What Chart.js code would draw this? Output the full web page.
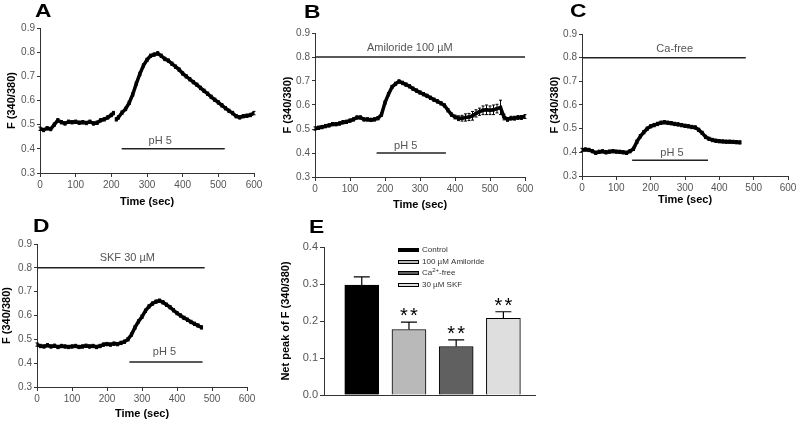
<!DOCTYPE html>
<html>
<head>
<meta charset="utf-8">
<title>pH 5 Ca2+ responses</title>
<script src="https://cdn.jsdelivr.net/npm/chart.js@4.4.1/dist/chart.umd.min.js"></script>
<style>
  body { margin: 0; background: #fff; }
  #wrap { position: relative; width: 800px; height: 421px; overflow: hidden; }
  canvas { position: absolute; }
  .tag { position: absolute; font: bold 19px "Liberation Sans", Arial, sans-serif; line-height: 19px; color: #000; transform: scaleX(1.2); transform-origin: left top; }
</style>
</head>
<body>
<div id="wrap">
  <canvas id="chartA" width="264" height="210" style="left:0px;top:0px"></canvas>
  <canvas id="chartB" width="265" height="213" style="left:270px;top:0px"></canvas>
  <canvas id="chartC" width="260" height="208" style="left:540px;top:0px"></canvas>
  <canvas id="chartD" width="260" height="211" style="left:0px;top:210px"></canvas>
  <canvas id="chartE" width="275" height="211" style="left:270px;top:210px"></canvas>
  <div class="tag" style="left:35px;top:1px">A</div>
  <div class="tag" style="left:304px;top:2px">B</div>
  <div class="tag" style="left:570px;top:1px">C</div>
  <div class="tag" style="left:33px;top:216px">D</div>
  <div class="tag" style="left:309px;top:217px">E</div>
</div>
<script>
// ---------- data ----------
// A: control (short recording gap around 210 s)
const timeA = [0,10,20,30,40,50,60,70,80,90,100,110,120,130,140,150,160,170,180,190,200,206,210,214,220,230,240,250,260,270,280,290,300,310,320,330,340,350,360,370,380,390,400,410,420,430,440,450,460,470,480,490,500,510,520,530,540,550,560,570,580,590,600];
const ratioA = [0.483,0.478,0.485,0.482,0.500,0.518,0.510,0.505,0.512,0.510,0.512,0.508,0.510,0.507,0.512,0.505,0.508,0.518,0.522,0.530,0.540,0.548,null,0.522,0.530,0.550,0.565,0.590,0.625,0.670,0.710,0.745,0.768,0.785,0.790,0.795,0.785,0.772,0.765,0.752,0.740,0.728,0.712,0.700,0.688,0.676,0.665,0.652,0.640,0.628,0.615,0.603,0.592,0.580,0.568,0.557,0.548,0.535,0.530,0.535,0.537,0.540,0.548];
const semA = 0.007;
const pHWindowA = [229, 518];

// B: amiloride 100 uM
const timeB = [0,10,20,30,40,50,60,70,80,90,100,110,120,130,140,150,160,170,180,190,200,210,220,230,240,250,260,270,280,290,300,310,320,330,340,350,360,370,380,390,400,410,420,430,440,450,460,470,480,490,500,510,520,530,540,550,560,570,580,590,600];
const ratioB = [0.502,0.505,0.508,0.512,0.515,0.520,0.520,0.523,0.528,0.530,0.535,0.540,0.548,0.548,0.540,0.540,0.538,0.540,0.545,0.560,0.610,0.645,0.675,0.688,0.698,0.692,0.685,0.678,0.668,0.660,0.652,0.645,0.638,0.630,0.622,0.615,0.607,0.598,0.578,0.560,0.550,0.545,0.545,0.548,0.550,0.555,0.565,0.572,0.578,0.580,0.578,0.580,0.585,0.590,0.550,0.540,0.545,0.545,0.548,0.548,0.552];
const semB = [0.007,0.007,0.007,0.007,0.007,0.007,0.007,0.007,0.007,0.007,0.007,0.007,0.007,0.007,0.007,0.007,0.007,0.007,0.007,0.007,0.007,0.007,0.007,0.007,0.007,0.007,0.007,0.007,0.007,0.007,0.007,0.007,0.007,0.007,0.007,0.007,0.007,0.007,0.007,0.007,0.008,0.010,0.012,0.015,0.015,0.018,0.015,0.015,0.018,0.020,0.018,0.020,0.018,0.030,0.012,0.008,0.008,0.008,0.008,0.008,0.008];
const pHWindowB = [176, 374];
const amilorideWindowB = [0, 600];

// C: Ca-free
const timeC = [0,10,20,30,40,50,60,70,80,90,100,110,120,130,140,150,160,170,180,190,200,210,220,230,240,250,260,270,280,290,300,310,320,330,340,350,360,370,380,390,400,410,420,430,440,450,460];
const ratioC = [0.410,0.412,0.410,0.405,0.398,0.402,0.404,0.400,0.403,0.405,0.403,0.402,0.400,0.398,0.405,0.415,0.445,0.468,0.485,0.500,0.510,0.515,0.520,0.525,0.527,0.525,0.523,0.520,0.518,0.515,0.512,0.510,0.507,0.505,0.495,0.482,0.465,0.457,0.452,0.449,0.447,0.446,0.445,0.445,0.444,0.443,0.442];
const semC = 0.007;
const pHWindowC = [146, 367];
const caFreeWindowC = [0, 477];

// D: SKF 30 uM
const timeD = [0,10,20,30,40,50,60,70,80,90,100,110,120,130,140,150,160,170,180,190,200,210,220,230,240,250,260,270,280,290,300,310,320,330,340,350,360,370,380,390,400,410,420,430,440,450,460,470];
const ratioD = [0.478,0.472,0.470,0.475,0.470,0.473,0.468,0.472,0.470,0.468,0.470,0.472,0.468,0.470,0.473,0.470,0.472,0.468,0.472,0.478,0.480,0.478,0.482,0.480,0.485,0.490,0.500,0.520,0.550,0.575,0.595,0.620,0.638,0.650,0.658,0.662,0.655,0.645,0.635,0.622,0.610,0.600,0.590,0.582,0.573,0.565,0.558,0.550];
const semD = 0.007;
const pHWindowD = [264, 473];
const skfWindowD = [0, 479];

// E: net peak of F
const groups = ['Control', '100 µM Amiloride', 'Ca²⁺-free', '30 µM SKF'];
const netPeak = [0.297, 0.177, 0.131, 0.207];
const netPeakSem = [0.022, 0.020, 0.018, 0.018];
const significance = ['', '**', '**', '**'];

// ---------- shared look ----------
const FONT = '"Liberation Sans", Arial, sans-serif';
Chart.defaults.font.family = FONT;
Chart.defaults.color = '#555';
const AXIS = '#333';

const errorBars = {
  id: 'errorBars',
  afterDatasetsDraw(chart, args, opts) {
    const { ctx } = chart;
    const y = chart.scales.y;
    chart.data.datasets.forEach((ds, di) => {
      if (ds.sem == null) return;
      const meta = chart.getDatasetMeta(di);
      ctx.save();
      ctx.strokeStyle = '#000';
      ctx.lineWidth = opts.width || 1;
      meta.data.forEach((el, i) => {
        const d = ds.data[i];
        if (d == null || d.y == null) return;
        const s = Array.isArray(ds.sem) ? ds.sem[i] : ds.sem;
        const top = y.getPixelForValue(d.y + s);
        const bot = ds.upOnly ? y.getPixelForValue(d.y) : y.getPixelForValue(d.y - s);
        const w = opts.cap || 1.5;
        ctx.beginPath();
        ctx.moveTo(el.x, top); ctx.lineTo(el.x, bot);
        ctx.moveTo(el.x - w, top); ctx.lineTo(el.x + w, top);
        if (!ds.upOnly) { ctx.moveTo(el.x - w, bot); ctx.lineTo(el.x + w, bot); }
        ctx.stroke();
      });
      ctx.restore();
    });
  }
};

const notes = {
  id: 'notes',
  afterDatasetsDraw(chart, args, opts) {
    if (!opts.items) return;
    const { ctx, scales: { x, y } } = chart;
    ctx.save();
    ctx.font = '11px ' + FONT;
    ctx.fillStyle = '#555';
    ctx.textAlign = 'center';
    ctx.textBaseline = 'middle';
    opts.items.forEach(n => ctx.fillText(n.text, x.getPixelForValue(n.x), y.getPixelForValue(n.y)));
    ctx.restore();
  }
};

function fitY(w) {
  return s => { s.width = w; s.paddingTop = 0; s.paddingBottom = 0; };
}
function fitX(h) {
  return s => { s.height = h; s.paddingLeft = 0; s.paddingRight = 0; };
}

function tracePanel(id, p) {
  const datasets = [{
    data: p.time.map((t, i) => ({ x: t, y: p.values[i] })),
    sem: p.sem,
    borderColor: '#000',
    borderWidth: 3.5,
    pointStyle: 'rect',
    pointRadius: 2.2,
    pointBackgroundColor: '#000',
    pointBorderWidth: 0,
    spanGaps: false
  }];
  p.windows.forEach(w => datasets.push({
    data: [{ x: w.range[0], y: w.level }, { x: w.range[1], y: w.level }],
    borderColor: '#222',
    borderWidth: 1.5,
    pointRadius: 0
  }));

  return new Chart(document.getElementById(id), {
    type: 'line',
    data: { datasets },
    plugins: [errorBars, notes],
    options: {
      responsive: false,
      animation: false,
      devicePixelRatio: 1,
      layout: { padding: { top: p.pad.top, right: p.pad.right, left: 0, bottom: 0 } },
      plugins: {
        legend: { display: false },
        tooltip: { enabled: false },
        errorBars: { cap: 1.5 },
        notes: { items: p.notes }
      },
      scales: {
        x: {
          type: 'linear', min: 0, max: 600,
          ticks: { stepSize: 100, font: { size: 10 }, padding: 2, maxRotation: 0 },
          grid: { drawOnChartArea: false, drawTicks: true, tickLength: 4, color: AXIS },
          border: { display: true, color: AXIS },
          title: { display: true, text: 'Time (sec)', color: '#000', font: { size: 11, weight: 'bold' }, padding: { top: 0, bottom: p.xTitlePad } },
          afterFit: fitX(p.xh)
        },
        y: {
          min: 0.3, max: 0.9,
          ticks: { stepSize: 0.1, font: { size: 10 }, padding: 2, callback: v => v.toFixed(1) },
          grid: { drawOnChartArea: false, drawTicks: true, tickLength: 3, color: AXIS },
          border: { display: true, color: AXIS },
          title: { display: true, text: 'F (340/380)', color: '#000', font: { size: 11, weight: 'bold' }, padding: { top: p.yTitlePad, bottom: 0 } },
          afterFit: fitY(p.yw)
        }
      }
    }
  });
}

tracePanel('chartA', {
  time: timeA, values: ratioA, sem: semA,
  windows: [{ range: pHWindowA, level: 0.4 }],
  notes: [{ text: 'pH 5', x: 337, y: 0.432 }],
  pad: { top: 28, right: 10 }, yw: 40, xh: 37, yTitlePad: 5, xTitlePad: 1.4
});

tracePanel('chartB', {
  time: timeB, values: ratioB, sem: semB,
  windows: [{ range: pHWindowB, level: 0.4 }, { range: amilorideWindowB, level: 0.8 }],
  notes: [{ text: 'pH 5', x: 259, y: 0.43 }, { text: 'Amiloride 100 µM', x: 271, y: 0.837 }],
  pad: { top: 33, right: 10 }, yw: 45, xh: 36, yTitlePad: 11, xTitlePad: 1.4
});

tracePanel('chartC', {
  time: timeC, values: ratioC, sem: semC,
  windows: [{ range: pHWindowC, level: 0.367 }, { range: caFreeWindowC, level: 0.8 }],
  notes: [{ text: 'pH 5', x: 262, y: 0.398 }, { text: 'Ca-free', x: 270, y: 0.835 }],
  pad: { top: 34, right: 12 }, yw: 42, xh: 32, yTitlePad: 8, xTitlePad: 1.4
});

tracePanel('chartD', {
  time: timeD, values: ratioD, sem: semD,
  windows: [{ range: pHWindowD, level: 0.405 }, { range: skfWindowD, level: 0.8 }],
  notes: [{ text: 'pH 5', x: 364, y: 0.445 }, { text: 'SKF 30 µM', x: 258, y: 0.84 }],
  pad: { top: 34, right: 13 }, yw: 37, xh: 34, yTitlePad: 0, xTitlePad: 0
});

// ---------- panel E: bar chart ----------
const barColors = ['#000000', '#b9b9b9', '#606060', '#dedede'];

function drawRich(ctx, text, x, y, size) {
  const sup = { '²': '2', '⁺': '+' };
  let cx = x;
  for (const ch of text) {
    if (sup[ch]) {
      ctx.font = Math.round(size * 0.75) + 'px ' + FONT;
      ctx.fillText(sup[ch], cx, y - size * 0.35);
      cx += ctx.measureText(sup[ch]).width;
    } else {
      ctx.font = size + 'px ' + FONT;
      ctx.fillText(ch, cx, y);
      cx += ctx.measureText(ch).width;
    }
  }
}

const barExtras = {
  id: 'barExtras',
  afterDraw(chart) {
    const { ctx, chartArea, scales: { y } } = chart;
    const meta = chart.getDatasetMeta(0);
    ctx.save();
    // significance stars, one glyph at a time
    ctx.fillStyle = '#000';
    ctx.font = '20px ' + FONT;
    ctx.textAlign = 'center';
    ctx.textBaseline = 'alphabetic';
    meta.data.forEach((el, i) => {
      const marks = significance[i];
      if (!marks) return;
      const top = y.getPixelForValue(netPeak[i] + netPeakSem[i]);
      const step = 10;
      const start = el.x - (marks.length - 1) * step / 2;
      for (let k = 0; k < marks.length; k++) ctx.fillText(marks[k], start + k * step, top);
    });
    // legend
    ctx.textAlign = 'left';
    ctx.textBaseline = 'middle';
    const x0 = chartArea.left + 74;
    groups.forEach((g, i) => {
      const yy = Math.round(chartArea.top + 3 + i * 11.7);
      ctx.fillStyle = barColors[i];
      ctx.fillRect(x0, yy - 2, 21, 4);
      ctx.strokeStyle = '#000';
      ctx.lineWidth = 1;
      ctx.strokeRect(x0 + 0.5, yy - 1.5, 20, 3);
      ctx.fillStyle = '#333';
      drawRich(ctx, g, x0 + 24, yy, 8);
    });
    ctx.restore();
  }
};

new Chart(document.getElementById('chartE'), {
  type: 'bar',
  data: {
    datasets: [{
      data: netPeak.map((v, i) => ({ x: i, y: v })),
      sem: netPeakSem,
      upOnly: true,
      backgroundColor: barColors,
      borderColor: '#000',
      borderWidth: 1,
      barThickness: 34
    }]
  },
  plugins: [errorBars, barExtras],
  options: {
    responsive: false,
    animation: false,
    devicePixelRatio: 1,
    layout: { padding: { top: 37, right: 10, left: 0, bottom: 0 } },
    plugins: {
      legend: { display: false },
      tooltip: { enabled: false },
      errorBars: { cap: 8, width: 1.2 }
    },
    scales: {
      x: {
        type: 'linear', min: -0.8, max: 3.67, offset: false,
        ticks: { display: false },
        grid: { display: false },
        border: { display: true, color: AXIS },
        afterFit: fitX(26)
      },
      y: {
        min: 0, max: 0.4,
        ticks: { stepSize: 0.1, font: { size: 11 }, padding: 2, callback: v => v.toFixed(1) },
        grid: { drawOnChartArea: false, drawTicks: true, tickLength: 4, color: AXIS },
        border: { display: true, color: AXIS },
        title: { display: true, text: 'Net peak of F (340/380)', color: '#000', font: { size: 11, weight: 'bold' }, padding: { top: 9, bottom: 0 } },
        afterFit: fitY(54)
      }
    }
  }
});
</script>
</body>
</html>
